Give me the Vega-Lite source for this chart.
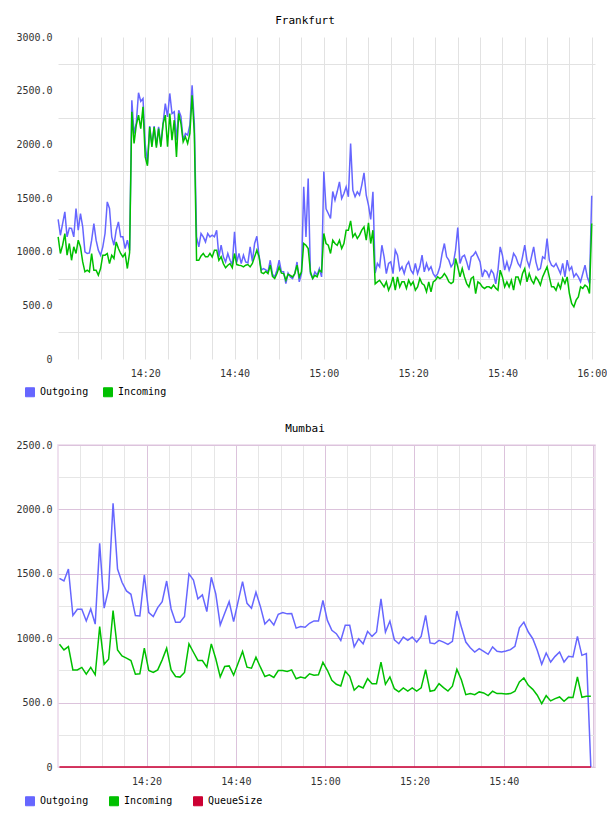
{
  "$schema": "https://vega.github.io/schema/vega-lite/v6.json",
  "background": "white",
  "padding": {"left": 15, "top": 15, "right": 0, "bottom": 0},
  "spacing": 23,
  "config": {
    "font": "DejaVu Sans Mono",
    "axis": {"labelFont": "DejaVu Sans Mono", "labelFontSize": 10, "labelColor": "#333333", "ticks": false, "domain": false, "labelOverlap": false, "labelFlush": false},
    "title": {"font": "DejaVu Sans Mono", "fontSize": 11, "fontWeight": "normal", "color": "#000000", "anchor": "middle", "offset": 6}
  },
  "datasets": {
    "frankfurt": [
      {"t":"14:00:30","Outgoing":1300,"Incoming":1138},{"t":"14:01:00","Outgoing":1153,"Incoming":983},{"t":"14:01:30","Outgoing":1262,"Incoming":1060},{"t":"14:02:00","Outgoing":1371,"Incoming":1169},{"t":"14:02:30","Outgoing":1138,"Incoming":967},{"t":"14:03:00","Outgoing":1220,"Incoming":1076},{"t":"14:03:30","Outgoing":1216,"Incoming":920},{"t":"14:04:00","Outgoing":1138,"Incoming":1045},{"t":"14:04:30","Outgoing":1402,"Incoming":983},{"t":"14:05:00","Outgoing":1200,"Incoming":1107},
      {"t":"14:05:30","Outgoing":1355,"Incoming":1045},{"t":"14:06:00","Outgoing":1231,"Incoming":904},{"t":"14:06:30","Outgoing":998,"Incoming":812},{"t":"14:07:00","Outgoing":983,"Incoming":827},{"t":"14:07:30","Outgoing":989,"Incoming":812},{"t":"14:08:00","Outgoing":1107,"Incoming":983},{"t":"14:08:30","Outgoing":1262,"Incoming":827},{"t":"14:09:00","Outgoing":1107,"Incoming":827},{"t":"14:09:30","Outgoing":1014,"Incoming":781},{"t":"14:10:00","Outgoing":967,"Incoming":843},
      {"t":"14:10:30","Outgoing":1045,"Incoming":967},{"t":"14:11:00","Outgoing":1169,"Incoming":967},{"t":"14:11:30","Outgoing":1464,"Incoming":983},{"t":"14:12:00","Outgoing":1402,"Incoming":889},{"t":"14:12:30","Outgoing":1138,"Incoming":967},{"t":"14:13:00","Outgoing":1060,"Incoming":936},{"t":"14:13:30","Outgoing":1200,"Incoming":1091},{"t":"14:14:00","Outgoing":1278,"Incoming":1029},{"t":"14:14:30","Outgoing":1138,"Incoming":983},{"t":"14:15:00","Outgoing":1138,"Incoming":952},
      {"t":"14:15:30","Outgoing":1029,"Incoming":983},{"t":"14:16:00","Outgoing":1107,"Incoming":843},{"t":"14:16:30","Outgoing":1010,"Incoming":990},{"t":"14:17:00","Outgoing":2411,"Incoming":2303},{"t":"14:17:30","Outgoing":2101,"Incoming":2008},{"t":"14:18:00","Outgoing":2200,"Incoming":2180},{"t":"14:18:30","Outgoing":2480,"Incoming":2272},{"t":"14:19:00","Outgoing":2400,"Incoming":2147},{"t":"14:19:30","Outgoing":2427,"Incoming":2349},{"t":"14:20:00","Outgoing":2000,"Incoming":1883},
      {"t":"14:20:30","Outgoing":1820,"Incoming":1800},{"t":"14:21:00","Outgoing":2170,"Incoming":2160},{"t":"14:21:30","Outgoing":1992,"Incoming":1977},{"t":"14:22:00","Outgoing":2170,"Incoming":2160},{"t":"14:22:30","Outgoing":1990,"Incoming":1970},{"t":"14:23:00","Outgoing":2163,"Incoming":2147},{"t":"14:23:30","Outgoing":1992,"Incoming":1977},{"t":"14:24:00","Outgoing":2200,"Incoming":2190},{"t":"14:24:30","Outgoing":2380,"Incoming":2272},{"t":"14:25:00","Outgoing":2256,"Incoming":1977},
      {"t":"14:25:30","Outgoing":2474,"Incoming":2287},{"t":"14:26:00","Outgoing":2287,"Incoming":2039},{"t":"14:26:30","Outgoing":2303,"Incoming":2225},{"t":"14:27:00","Outgoing":2039,"Incoming":1883},{"t":"14:27:30","Outgoing":2318,"Incoming":2287},{"t":"14:28:00","Outgoing":2260,"Incoming":2194},{"t":"14:28:30","Outgoing":2039,"Incoming":2023},{"t":"14:29:00","Outgoing":2101,"Incoming":2070},{"t":"14:29:30","Outgoing":2085,"Incoming":2008},{"t":"14:30:00","Outgoing":2180,"Incoming":2101},
      {"t":"14:30:30","Outgoing":2551,"Incoming":2458},{"t":"14:31:00","Outgoing":2194,"Incoming":2101},{"t":"14:31:30","Outgoing":1138,"Incoming":920},{"t":"14:32:00","Outgoing":1045,"Incoming":920},{"t":"14:32:30","Outgoing":1169,"Incoming":960},{"t":"14:33:00","Outgoing":1138,"Incoming":983},{"t":"14:33:30","Outgoing":1091,"Incoming":952},{"t":"14:34:00","Outgoing":1169,"Incoming":952},{"t":"14:34:30","Outgoing":1138,"Incoming":983},{"t":"14:35:00","Outgoing":1153,"Incoming":950},
      {"t":"14:35:30","Outgoing":1138,"Incoming":1014},{"t":"14:36:00","Outgoing":1200,"Incoming":1014},{"t":"14:36:30","Outgoing":952,"Incoming":920},{"t":"14:37:00","Outgoing":1060,"Incoming":952},{"t":"14:37:30","Outgoing":952,"Incoming":889},{"t":"14:38:00","Outgoing":904,"Incoming":850},{"t":"14:38:30","Outgoing":983,"Incoming":874},{"t":"14:39:00","Outgoing":920,"Incoming":889},{"t":"14:39:30","Outgoing":880,"Incoming":850},{"t":"14:40:00","Outgoing":1185,"Incoming":983},
      {"t":"14:40:30","Outgoing":900,"Incoming":880},{"t":"14:41:00","Outgoing":983,"Incoming":874},{"t":"14:41:30","Outgoing":890,"Incoming":870},{"t":"14:42:00","Outgoing":967,"Incoming":858},{"t":"14:42:30","Outgoing":904,"Incoming":874},{"t":"14:43:00","Outgoing":895,"Incoming":880},{"t":"14:43:30","Outgoing":1045,"Incoming":858},{"t":"14:44:00","Outgoing":910,"Incoming":890},{"t":"14:44:30","Outgoing":1076,"Incoming":952},{"t":"14:45:00","Outgoing":1144,"Incoming":1014},
      {"t":"14:45:30","Outgoing":960,"Incoming":952},{"t":"14:46:00","Outgoing":830,"Incoming":805},{"t":"14:46:30","Outgoing":843,"Incoming":796},{"t":"14:47:00","Outgoing":830,"Incoming":815},{"t":"14:47:30","Outgoing":812,"Incoming":796},{"t":"14:48:00","Outgoing":920,"Incoming":874},{"t":"14:48:30","Outgoing":790,"Incoming":770},{"t":"14:49:00","Outgoing":765,"Incoming":750},{"t":"14:49:30","Outgoing":827,"Incoming":796},{"t":"14:50:00","Outgoing":920,"Incoming":858},
      {"t":"14:50:30","Outgoing":812,"Incoming":800},{"t":"14:51:00","Outgoing":812,"Incoming":796},{"t":"14:51:30","Outgoing":703,"Incoming":734},{"t":"14:52:00","Outgoing":800,"Incoming":790},{"t":"14:52:30","Outgoing":765,"Incoming":780},{"t":"14:53:00","Outgoing":750,"Incoming":765},{"t":"14:53:30","Outgoing":796,"Incoming":796},{"t":"14:54:00","Outgoing":904,"Incoming":874},{"t":"14:54:30","Outgoing":719,"Incoming":765},{"t":"14:55:00","Outgoing":796,"Incoming":812},
      {"t":"14:55:30","Outgoing":1604,"Incoming":1076},{"t":"14:56:00","Outgoing":1138,"Incoming":1060},{"t":"14:56:30","Outgoing":1682,"Incoming":1029},{"t":"14:57:00","Outgoing":796,"Incoming":812},{"t":"14:57:30","Outgoing":750,"Incoming":750},{"t":"14:58:00","Outgoing":812,"Incoming":780},{"t":"14:58:30","Outgoing":780,"Incoming":765},{"t":"14:59:00","Outgoing":843,"Incoming":827},{"t":"14:59:30","Outgoing":765,"Incoming":812},{"t":"15:00:00","Outgoing":1747,"Incoming":1169},
      {"t":"15:00:30","Outgoing":1400,"Incoming":1076},{"t":"15:01:00","Outgoing":1356,"Incoming":1060},{"t":"15:01:30","Outgoing":1309,"Incoming":983},{"t":"15:02:00","Outgoing":1560,"Incoming":1107},{"t":"15:02:30","Outgoing":1480,"Incoming":1076},{"t":"15:03:00","Outgoing":1560,"Incoming":1060},{"t":"15:03:30","Outgoing":1651,"Incoming":1107},{"t":"15:04:00","Outgoing":1495,"Incoming":1029},{"t":"15:04:30","Outgoing":1542,"Incoming":1076},{"t":"15:05:00","Outgoing":1604,"Incoming":1200},
      {"t":"15:05:30","Outgoing":1511,"Incoming":1200},{"t":"15:06:00","Outgoing":2008,"Incoming":1287},{"t":"15:06:30","Outgoing":1573,"Incoming":1138},{"t":"15:07:00","Outgoing":1511,"Incoming":1169},{"t":"15:07:30","Outgoing":1557,"Incoming":1123},{"t":"15:08:00","Outgoing":1526,"Incoming":1154},{"t":"15:08:30","Outgoing":1620,"Incoming":1200},{"t":"15:09:00","Outgoing":1734,"Incoming":1231},{"t":"15:09:30","Outgoing":1526,"Incoming":1107},{"t":"15:10:00","Outgoing":1433,"Incoming":1269},
      {"t":"15:10:30","Outgoing":1300,"Incoming":1076},{"t":"15:11:00","Outgoing":1557,"Incoming":1200},{"t":"15:11:30","Outgoing":800,"Incoming":700},{"t":"15:12:00","Outgoing":890,"Incoming":719},{"t":"15:12:30","Outgoing":859,"Incoming":734},{"t":"15:13:00","Outgoing":1060,"Incoming":703},{"t":"15:13:30","Outgoing":952,"Incoming":672},{"t":"15:14:00","Outgoing":796,"Incoming":719},{"t":"15:14:30","Outgoing":890,"Incoming":641},{"t":"15:15:00","Outgoing":905,"Incoming":688},
      {"t":"15:15:30","Outgoing":796,"Incoming":765},{"t":"15:16:00","Outgoing":1014,"Incoming":641},{"t":"15:16:30","Outgoing":967,"Incoming":765},{"t":"15:17:00","Outgoing":828,"Incoming":672},{"t":"15:17:30","Outgoing":859,"Incoming":719},{"t":"15:18:00","Outgoing":796,"Incoming":719},{"t":"15:18:30","Outgoing":874,"Incoming":657},{"t":"15:19:00","Outgoing":905,"Incoming":734},{"t":"15:19:30","Outgoing":828,"Incoming":688},{"t":"15:20:00","Outgoing":796,"Incoming":719},
      {"t":"15:20:30","Outgoing":890,"Incoming":641},{"t":"15:21:00","Outgoing":796,"Incoming":672},{"t":"15:21:30","Outgoing":859,"Incoming":750},{"t":"15:22:00","Outgoing":967,"Incoming":703},{"t":"15:22:30","Outgoing":812,"Incoming":688},{"t":"15:23:00","Outgoing":890,"Incoming":626},{"t":"15:23:30","Outgoing":828,"Incoming":719},{"t":"15:24:00","Outgoing":859,"Incoming":626},{"t":"15:24:30","Outgoing":796,"Incoming":719},{"t":"15:25:00","Outgoing":765,"Incoming":734},
      {"t":"15:25:30","Outgoing":796,"Incoming":765},{"t":"15:26:00","Outgoing":859,"Incoming":750},{"t":"15:26:30","Outgoing":983,"Incoming":765},{"t":"15:27:00","Outgoing":1076,"Incoming":796},{"t":"15:27:30","Outgoing":952,"Incoming":765},{"t":"15:28:00","Outgoing":921,"Incoming":719},{"t":"15:28:30","Outgoing":859,"Incoming":703},{"t":"15:29:00","Outgoing":890,"Incoming":719},{"t":"15:29:30","Outgoing":1014,"Incoming":936},{"t":"15:30:00","Outgoing":1225,"Incoming":859},
      {"t":"15:30:30","Outgoing":890,"Incoming":765},{"t":"15:31:00","Outgoing":952,"Incoming":843},{"t":"15:31:30","Outgoing":967,"Incoming":765},{"t":"15:32:00","Outgoing":905,"Incoming":703},{"t":"15:32:30","Outgoing":828,"Incoming":672},{"t":"15:33:00","Outgoing":952,"Incoming":750},{"t":"15:33:30","Outgoing":967,"Incoming":765},{"t":"15:34:00","Outgoing":998,"Incoming":610},{"t":"15:34:30","Outgoing":952,"Incoming":719},{"t":"15:35:00","Outgoing":905,"Incoming":703},
      {"t":"15:35:30","Outgoing":765,"Incoming":672},{"t":"15:36:00","Outgoing":828,"Incoming":657},{"t":"15:36:30","Outgoing":812,"Incoming":672},{"t":"15:37:00","Outgoing":765,"Incoming":672},{"t":"15:37:30","Outgoing":828,"Incoming":657},{"t":"15:38:00","Outgoing":796,"Incoming":688},{"t":"15:38:30","Outgoing":700,"Incoming":660},{"t":"15:39:00","Outgoing":828,"Incoming":641},{"t":"15:39:30","Outgoing":1045,"Incoming":828},{"t":"15:40:00","Outgoing":967,"Incoming":765},
      {"t":"15:40:30","Outgoing":828,"Incoming":672},{"t":"15:41:00","Outgoing":905,"Incoming":719},{"t":"15:41:30","Outgoing":828,"Incoming":672},{"t":"15:42:00","Outgoing":890,"Incoming":734},{"t":"15:42:30","Outgoing":983,"Incoming":641},{"t":"15:43:00","Outgoing":952,"Incoming":765},{"t":"15:43:30","Outgoing":890,"Incoming":765},{"t":"15:44:00","Outgoing":859,"Incoming":703},{"t":"15:44:30","Outgoing":952,"Incoming":796},{"t":"15:45:00","Outgoing":1060,"Incoming":843},
      {"t":"15:45:30","Outgoing":921,"Incoming":719},{"t":"15:46:00","Outgoing":859,"Incoming":796},{"t":"15:46:30","Outgoing":952,"Incoming":734},{"t":"15:47:00","Outgoing":1045,"Incoming":703},{"t":"15:47:30","Outgoing":905,"Incoming":765},{"t":"15:48:00","Outgoing":828,"Incoming":734},{"t":"15:48:30","Outgoing":843,"Incoming":688},{"t":"15:49:00","Outgoing":952,"Incoming":765},{"t":"15:49:30","Outgoing":936,"Incoming":812},{"t":"15:50:00","Outgoing":1123,"Incoming":859},
      {"t":"15:50:30","Outgoing":921,"Incoming":765},{"t":"15:51:00","Outgoing":874,"Incoming":672},{"t":"15:51:30","Outgoing":859,"Incoming":672},{"t":"15:52:00","Outgoing":890,"Incoming":641},{"t":"15:52:30","Outgoing":843,"Incoming":703},{"t":"15:53:00","Outgoing":796,"Incoming":657},{"t":"15:53:30","Outgoing":890,"Incoming":750},{"t":"15:54:00","Outgoing":765,"Incoming":703},{"t":"15:54:30","Outgoing":921,"Incoming":765},{"t":"15:55:00","Outgoing":828,"Incoming":610},
      {"t":"15:55:30","Outgoing":859,"Incoming":517},{"t":"15:56:00","Outgoing":765,"Incoming":486},{"t":"15:56:30","Outgoing":796,"Incoming":548},{"t":"15:57:00","Outgoing":765,"Incoming":579},{"t":"15:57:30","Outgoing":719,"Incoming":672},{"t":"15:58:00","Outgoing":796,"Incoming":657},{"t":"15:58:30","Outgoing":874,"Incoming":688},{"t":"15:59:00","Outgoing":765,"Incoming":672},{"t":"15:59:30","Outgoing":703,"Incoming":610},{"t":"16:00:00","Outgoing":1520,"Incoming":1262}
    ],
    "mumbai": [
      {"t":"14:00:30","Outgoing":1465,"Incoming":953,"QueueSize":0},{"t":"14:01:30","Outgoing":1444,"Incoming":909,"QueueSize":0},{"t":"14:02:30","Outgoing":1537,"Incoming":935,"QueueSize":0},{"t":"14:03:30","Outgoing":1176,"Incoming":754,"QueueSize":0},{"t":"14:04:30","Outgoing":1225,"Incoming":754,"QueueSize":0},{"t":"14:05:30","Outgoing":1225,"Incoming":773,"QueueSize":0},{"t":"14:06:30","Outgoing":1134,"Incoming":721,"QueueSize":0},{"t":"14:07:30","Outgoing":1227,"Incoming":773,"QueueSize":0},{"t":"14:08:30","Outgoing":1109,"Incoming":716,"QueueSize":0},{"t":"14:09:30","Outgoing":1736,"Incoming":1090,"QueueSize":0},
      {"t":"14:10:30","Outgoing":1233,"Incoming":798,"QueueSize":0},{"t":"14:11:30","Outgoing":1380,"Incoming":837,"QueueSize":0},{"t":"14:12:30","Outgoing":2047,"Incoming":1214,"QueueSize":0},{"t":"14:13:30","Outgoing":1537,"Incoming":909,"QueueSize":0},{"t":"14:14:30","Outgoing":1434,"Incoming":863,"QueueSize":0},{"t":"14:15:30","Outgoing":1367,"Incoming":845,"QueueSize":0},{"t":"14:16:30","Outgoing":1341,"Incoming":827,"QueueSize":0},{"t":"14:17:30","Outgoing":1176,"Incoming":721,"QueueSize":0},{"t":"14:18:30","Outgoing":1173,"Incoming":724,"QueueSize":0},{"t":"14:19:30","Outgoing":1491,"Incoming":922,"QueueSize":0},
      {"t":"14:20:30","Outgoing":1199,"Incoming":749,"QueueSize":0},{"t":"14:21:30","Outgoing":1168,"Incoming":734,"QueueSize":0},{"t":"14:22:30","Outgoing":1238,"Incoming":754,"QueueSize":0},{"t":"14:23:30","Outgoing":1284,"Incoming":832,"QueueSize":0},{"t":"14:24:30","Outgoing":1444,"Incoming":922,"QueueSize":0},{"t":"14:25:30","Outgoing":1227,"Incoming":754,"QueueSize":0},{"t":"14:26:30","Outgoing":1124,"Incoming":703,"QueueSize":0},{"t":"14:27:30","Outgoing":1124,"Incoming":698,"QueueSize":0},{"t":"14:28:30","Outgoing":1168,"Incoming":734,"QueueSize":0},{"t":"14:29:30","Outgoing":1499,"Incoming":956,"QueueSize":0},
      {"t":"14:30:30","Outgoing":1452,"Incoming":891,"QueueSize":0},{"t":"14:31:30","Outgoing":1305,"Incoming":827,"QueueSize":0},{"t":"14:32:30","Outgoing":1336,"Incoming":827,"QueueSize":0},{"t":"14:33:30","Outgoing":1207,"Incoming":775,"QueueSize":0},{"t":"14:34:30","Outgoing":1473,"Incoming":956,"QueueSize":0},{"t":"14:35:30","Outgoing":1344,"Incoming":840,"QueueSize":0},{"t":"14:36:30","Outgoing":1103,"Incoming":700,"QueueSize":0},{"t":"14:37:30","Outgoing":1194,"Incoming":780,"QueueSize":0},{"t":"14:38:30","Outgoing":1284,"Incoming":785,"QueueSize":0},{"t":"14:39:30","Outgoing":1129,"Incoming":713,"QueueSize":0},
      {"t":"14:40:30","Outgoing":1284,"Incoming":806,"QueueSize":0},{"t":"14:41:30","Outgoing":1439,"Incoming":897,"QueueSize":0},{"t":"14:42:30","Outgoing":1271,"Incoming":775,"QueueSize":0},{"t":"14:43:30","Outgoing":1233,"Incoming":767,"QueueSize":0},{"t":"14:44:30","Outgoing":1357,"Incoming":853,"QueueSize":0},{"t":"14:45:30","Outgoing":1245,"Incoming":775,"QueueSize":0},{"t":"14:46:30","Outgoing":1111,"Incoming":703,"QueueSize":0},{"t":"14:47:30","Outgoing":1147,"Incoming":716,"QueueSize":0},{"t":"14:48:30","Outgoing":1103,"Incoming":695,"QueueSize":0},{"t":"14:49:30","Outgoing":1186,"Incoming":749,"QueueSize":0},
      {"t":"14:50:30","Outgoing":1199,"Incoming":749,"QueueSize":0},{"t":"14:51:30","Outgoing":1189,"Incoming":742,"QueueSize":0},{"t":"14:52:30","Outgoing":1191,"Incoming":754,"QueueSize":0},{"t":"14:53:30","Outgoing":1078,"Incoming":685,"QueueSize":0},{"t":"14:54:30","Outgoing":1090,"Incoming":698,"QueueSize":0},{"t":"14:55:30","Outgoing":1085,"Incoming":690,"QueueSize":0},{"t":"14:56:30","Outgoing":1116,"Incoming":724,"QueueSize":0},{"t":"14:57:30","Outgoing":1134,"Incoming":713,"QueueSize":0},{"t":"14:58:30","Outgoing":1134,"Incoming":716,"QueueSize":0},{"t":"14:59:30","Outgoing":1293,"Incoming":813,"QueueSize":0},
      {"t":"15:00:30","Outgoing":1138,"Incoming":751,"QueueSize":0},{"t":"15:01:30","Outgoing":1061,"Incoming":673,"QueueSize":0},{"t":"15:02:30","Outgoing":1035,"Incoming":642,"QueueSize":0},{"t":"15:03:30","Outgoing":983,"Incoming":629,"QueueSize":0},{"t":"15:04:30","Outgoing":1100,"Incoming":743,"QueueSize":0},{"t":"15:05:30","Outgoing":1100,"Incoming":704,"QueueSize":0},{"t":"15:06:30","Outgoing":932,"Incoming":596,"QueueSize":0},{"t":"15:07:30","Outgoing":996,"Incoming":629,"QueueSize":0},{"t":"15:08:30","Outgoing":957,"Incoming":614,"QueueSize":0},{"t":"15:09:30","Outgoing":1053,"Incoming":686,"QueueSize":0},
      {"t":"15:10:30","Outgoing":1014,"Incoming":647,"QueueSize":0},{"t":"15:11:30","Outgoing":1048,"Incoming":647,"QueueSize":0},{"t":"15:12:30","Outgoing":1306,"Incoming":815,"QueueSize":0},{"t":"15:13:30","Outgoing":1048,"Incoming":642,"QueueSize":0},{"t":"15:14:30","Outgoing":1133,"Incoming":699,"QueueSize":0},{"t":"15:15:30","Outgoing":988,"Incoming":608,"QueueSize":0},{"t":"15:16:30","Outgoing":957,"Incoming":583,"QueueSize":0},{"t":"15:17:30","Outgoing":1009,"Incoming":614,"QueueSize":0},{"t":"15:18:30","Outgoing":983,"Incoming":590,"QueueSize":0},{"t":"15:19:30","Outgoing":1009,"Incoming":614,"QueueSize":0},
      {"t":"15:20:30","Outgoing":970,"Incoming":590,"QueueSize":0},{"t":"15:21:30","Outgoing":1014,"Incoming":614,"QueueSize":0},{"t":"15:22:30","Outgoing":1177,"Incoming":756,"QueueSize":0},{"t":"15:23:30","Outgoing":963,"Incoming":588,"QueueSize":0},{"t":"15:24:30","Outgoing":957,"Incoming":596,"QueueSize":0},{"t":"15:25:30","Outgoing":983,"Incoming":647,"QueueSize":0},{"t":"15:26:30","Outgoing":970,"Incoming":616,"QueueSize":0},{"t":"15:27:30","Outgoing":952,"Incoming":590,"QueueSize":0},{"t":"15:28:30","Outgoing":975,"Incoming":627,"QueueSize":0},{"t":"15:29:30","Outgoing":1211,"Incoming":758,"QueueSize":0},
      {"t":"15:30:30","Outgoing":1087,"Incoming":678,"QueueSize":0},{"t":"15:31:30","Outgoing":970,"Incoming":562,"QueueSize":0},{"t":"15:32:30","Outgoing":926,"Incoming":570,"QueueSize":0},{"t":"15:33:30","Outgoing":893,"Incoming":562,"QueueSize":0},{"t":"15:34:30","Outgoing":919,"Incoming":583,"QueueSize":0},{"t":"15:35:30","Outgoing":898,"Incoming":575,"QueueSize":0},{"t":"15:36:30","Outgoing":875,"Incoming":554,"QueueSize":0},{"t":"15:37:30","Outgoing":932,"Incoming":588,"QueueSize":0},{"t":"15:38:30","Outgoing":898,"Incoming":570,"QueueSize":0},{"t":"15:39:30","Outgoing":893,"Incoming":570,"QueueSize":0},
      {"t":"15:40:30","Outgoing":900,"Incoming":567,"QueueSize":0},{"t":"15:41:30","Outgoing":911,"Incoming":570,"QueueSize":0},{"t":"15:42:30","Outgoing":937,"Incoming":588,"QueueSize":0},{"t":"15:43:30","Outgoing":1081,"Incoming":660,"QueueSize":0},{"t":"15:44:30","Outgoing":1125,"Incoming":691,"QueueSize":0},{"t":"15:45:30","Outgoing":1048,"Incoming":634,"QueueSize":0},{"t":"15:46:30","Outgoing":996,"Incoming":603,"QueueSize":0},{"t":"15:47:30","Outgoing":906,"Incoming":557,"QueueSize":0},{"t":"15:48:30","Outgoing":797,"Incoming":492,"QueueSize":0},{"t":"15:49:30","Outgoing":885,"Incoming":554,"QueueSize":0},
      {"t":"15:50:30","Outgoing":815,"Incoming":513,"QueueSize":0},{"t":"15:51:30","Outgoing":859,"Incoming":531,"QueueSize":0},{"t":"15:52:30","Outgoing":893,"Incoming":544,"QueueSize":0},{"t":"15:53:30","Outgoing":815,"Incoming":510,"QueueSize":0},{"t":"15:54:30","Outgoing":859,"Incoming":541,"QueueSize":0},{"t":"15:55:30","Outgoing":854,"Incoming":539,"QueueSize":0},{"t":"15:56:30","Outgoing":1014,"Incoming":699,"QueueSize":0},{"t":"15:57:30","Outgoing":867,"Incoming":541,"QueueSize":0},{"t":"15:58:30","Outgoing":880,"Incoming":549,"QueueSize":0},{"t":"15:59:30","Outgoing":0,"Incoming":549,"QueueSize":0}
    ]
  },
  "vconcat": [
    {
      "title": {"text": "Frankfurt", "frame": "group", "dx": -21.5},
      "width": 537,
      "height": 322,
      "view": {"stroke": null},
      "data": {"name": "frankfurt", "format": {"parse": {"t": "utc:'%H:%M:%S'"}}},
      "transform": [{"fold": ["Outgoing", "Incoming"], "as": ["series", "value"]}],
      "mark": {"type": "line", "strokeWidth": 1.5},
      "encoding": {
        "x": {
          "field": "t", "type": "temporal",
          "scale": {"type": "utc", "nice": false, "domain": [-2208938372000, -2208931156000]},
          "axis": {
            "title": null,
            "tickCount": 24,
            "labelExpr": "utcminutes(datum.value) % 20 === 0 ? utcFormat(datum.value, '%H:%M') : ''",
            "grid": true, "gridColor": "#e2e2e2", "labelPadding": 9
          }
        },
        "y": {
          "field": "value", "type": "quantitative",
          "scale": {"domain": [0, 3000], "nice": false},
          "axis": {
            "title": null,
            "values": [0, 250, 500, 750, 1000, 1250, 1500, 1750, 2000, 2250, 2500, 2750, 3000],
            "labelExpr": "datum.value === 0 ? '0' : (datum.value % 500 === 0 ? format(datum.value, '.1f') : '')",
            "grid": true, "gridColor": "#e2e2e2",
            "gridOpacity": {"condition": {"test": "datum.value % 500 === 0", "value": 0}, "value": 1},
            "labelPadding": 6
          }
        },
        "color": {
          "field": "series", "type": "nominal",
          "scale": {"domain": ["Outgoing", "Incoming"], "range": ["#6666ff", "#00c000"]},
          "legend": {
            "title": null, "orient": "none", "legendX": -33, "legendY": 350, "direction": "horizontal",
            "symbolType": "square", "symbolSize": 81, "symbolStrokeWidth": 1,
            "labelFont": "DejaVu Sans Mono", "labelFontSize": 10, "labelColor": "#000000", "labelOffset": 5,
            "columnPadding": 12, "gridAlign": "all",
            "encode": {"symbols": {"update": {
              "fill": {"signal": "datum.value === 'Outgoing' ? '#6666ff' : '#00c000'"},
              "stroke": {"value": "#aaaaaa"}
            }}}
          }
        }
      }
    },
    {
      "title": {"text": "Mumbai", "frame": "group", "dx": -21.5},
      "width": 537,
      "height": 322,
      "view": {"stroke": "#ead8ea", "strokeWidth": 1.5},
      "data": {"name": "mumbai", "format": {"parse": {"t": "utc:'%H:%M:%S'"}}},
      "transform": [{"fold": ["Outgoing", "Incoming", "QueueSize"], "as": ["series", "value"]}],
      "mark": {"type": "line", "strokeWidth": 1.5},
      "encoding": {
        "x": {
          "field": "t", "type": "temporal",
          "scale": {"type": "utc", "nice": false, "domain": [-2208938390000, -2208931174000]},
          "axis": {
            "title": null,
            "tickCount": 24,
            "labelExpr": "utcminutes(datum.value) % 20 === 0 && utchours(datum.value) < 16 ? utcFormat(datum.value, '%H:%M') : ''",
            "grid": true,
            "gridColor": {"condition": {"test": "utcminutes(datum.value) % 20 === 0", "value": "#dcc3dc"}, "value": "#e6e6e6"},
            "labelPadding": 9
          }
        },
        "y": {
          "field": "value", "type": "quantitative",
          "scale": {"domain": [0, 2500], "nice": false},
          "axis": {
            "title": null,
            "values": [0, 250, 500, 750, 1000, 1250, 1500, 1750, 2000, 2250, 2500],
            "labelExpr": "datum.value === 0 ? '0' : (datum.value % 500 === 0 ? format(datum.value, '.1f') : '')",
            "grid": true,
            "gridColor": {"condition": {"test": "datum.value % 500 === 0", "value": "#dcc3dc"}, "value": "#e6e6e6"},
            "labelPadding": 6
          }
        },
        "color": {
          "field": "series", "type": "nominal",
          "scale": {"domain": ["Outgoing", "Incoming", "QueueSize"], "range": ["#6666ff", "#00c000", "#cc0033"]},
          "legend": {
            "title": null, "orient": "none", "legendX": -33, "legendY": 351, "direction": "horizontal",
            "symbolType": "square", "symbolSize": 81, "symbolStrokeWidth": 1,
            "labelFont": "DejaVu Sans Mono", "labelFontSize": 10, "labelColor": "#000000", "labelOffset": 5,
            "columnPadding": 12, "gridAlign": "all",
            "encode": {"symbols": {"update": {
              "fill": {"signal": "datum.value === 'Outgoing' ? '#6666ff' : (datum.value === 'Incoming' ? '#00c000' : '#cc0033')"},
              "stroke": {"value": "#aaaaaa"}
            }}}
          }
        }
      }
    }
  ],
  "resolve": {
    "scale": {"color": "independent", "x": "independent", "y": "independent"},
    "legend": {"color": "independent"}
  }
}
